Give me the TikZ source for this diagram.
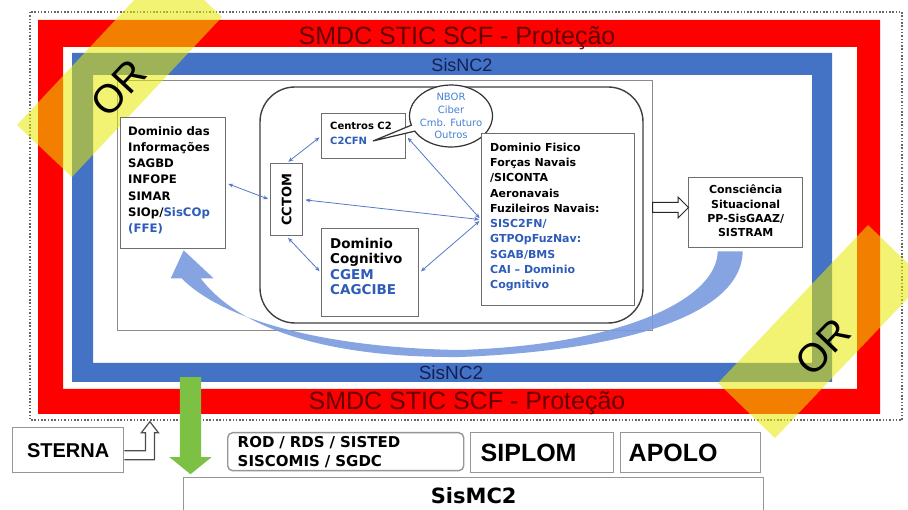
\documentclass[tikz,border=0pt]{standalone}
\usepackage{fontspec}
\setmainfont{DejaVu Sans}
\newfontfamily\arialfont{Liberation Sans}
\usepackage{graphicx}
\usepackage{xcolor}
\usepackage{tikz}
\usetikzlibrary{arrows.meta}
\usetikzlibrary{shapes.callouts}
\usetikzlibrary{shapes.arrows}

\definecolor{frred}{RGB}{255,0,0}
\definecolor{frblue}{RGB}{68,114,196}
\definecolor{txtblue}{RGB}{46,92,184}
\definecolor{cloudblue}{RGB}{70,130,210}
\definecolor{titlered}{RGB}{100,0,0}
\definecolor{sisnavy}{RGB}{20,32,85}
\definecolor{curveblue}{RGB}{120,155,222}
\definecolor{linkblue}{RGB}{85,120,200}
\definecolor{arrowgreen}{RGB}{124,193,68}
\definecolor{bandyellow}{RGB}{232,232,0}
\definecolor{boxgray}{RGB}{110,110,110}
\definecolor{lowgray}{RGB}{150,150,150}

\newcommand{\pxfont}[2]{\fontsize{#1}{#2}\selectfont\bfseries}
\newcommand{\inblue}[1]{\textcolor{txtblue}{#1}}

\tikzset{
  box/.style={draw=boxgray, line width=1.4pt, fill=white, inner sep=0pt, anchor=north west},
  lowbox/.style={box, draw=lowgray},
  txt/.style={anchor=north west, inner sep=0pt, align=left},
  link/.style={draw=linkblue, line width=0.8pt, >={Stealth[length=5pt,width=4pt]}, <->, shorten <=2pt, shorten >=2pt},
  band/.style={fill=bandyellow, fill opacity=0.55},
  ortxt/.style={inner sep=0pt, font=\arialfont\fontsize{40}{40}\selectfont},
  frametxt/.style={anchor=base, inner sep=0pt, font=\arialfont\fontsize{25}{25}\selectfont, text=titlered},
  sistxt/.style={anchor=base, inner sep=0pt, font=\arialfont\fontsize{18}{18}\selectfont, text=sisnavy},
  hollowarrow/.style={single arrow, draw=black!85, fill=white, line width=1pt, inner xsep=0pt, inner ysep=4.5pt,
    minimum width=20pt, minimum height=36pt, single arrow head extend=5.5pt, single arrow head indent=0pt, anchor=tail},
  greenarrow/.style={single arrow, fill=arrowgreen, inner xsep=0pt, inner ysep=10.5pt, minimum width=42pt,
    minimum height=97pt, single arrow head extend=10.5pt, single arrow tip angle=102, anchor=tail, rotate=-90},
}

\begin{document}
\begin{tikzpicture}[x=1pt,y=-1pt]
\fill[white] (0,0) rectangle (908,510);
\useasboundingbox (0,0) rectangle (908,510);
\clip (0,0) rectangle (908,510);

% frames
\draw[black!60, line width=1.5pt, dash pattern=on 1.5pt off 1.8pt] (30,12) rectangle (902,420);
\fill[frred, even odd rule] (38,20) rectangle (880,414) (63,47) rectangle (857,389);
\fill[frblue, even odd rule] (72,53) rectangle (832,382) (93,75) rectangle (812,363);
\node[frametxt] (smdctop) at (457,45) {SMDC STIC SCF - Proteção};
\node[frametxt] (smdcbot) at (467,410) {SMDC STIC SCF - Proteção};
\node[sistxt] (sistop) at (462,72) {SisNC2};
\node[sistxt, font=\arialfont\fontsize{19}{19}\selectfont] (sisbot) at (451,380) {SisNC2};

\node[draw=boxgray!80, line width=1.4pt, inner sep=0pt, anchor=north west, minimum width=535, minimum height=250] (inner) at (117,80) {};
\draw[black!75, line width=1.4pt, rounded corners=35pt] (260,87) rectangle (643,323);

% OR bands
\fill[band] (17,125) -- (72,177) -- (222,17) -- (167,-35) -- cycle;
\fill[band] (718,383) -- (775,438) -- (925,280) -- (868,225) -- cycle;
\node[ortxt, rotate=47] (ortl) at (119,88) {OR};
\node[ortxt, rotate=46] (orbr) at (823,347) {OR};

% domains
\node[box, minimum width=105, minimum height=131] (info) at (120,117) {};
\node[txt, font=\pxfont{11.7}{16.3}] (infotxt) at ([shift={(8,9)}]info.north west)
  {Dominio das\\Informações\\SAGBD\\INFOPE\\SIMAR\\SIOp/\inblue{SisCOp}\\\inblue{(FFE)}};

\node[box, minimum width=32, minimum height=72, font=\pxfont{13}{13}] (cctom) at (270,163) {\rotatebox{90}{CCTOM}};

\node[box, minimum width=84, minimum height=45] (ctr) at (321,113) {};
\node[txt, font=\pxfont{10}{15}] (ctrtxt) at ([shift={(9,8.5)}]ctr.north west) {Centros C2\\\inblue{C2CFN}};

\node[box, minimum width=97, minimum height=88] (cog) at (321,228) {};
\node[txt, font=\pxfont{13.5}{15.4}] (cogtxt) at ([shift={(9,10)}]cog.north west)
  {Dominio\\Cognitivo\\\inblue{CGEM}\\\inblue{CAGCIBE}};

\coordinate (c2tip) at (373,141);
\node[ellipse callout, draw=black!80, line width=1.2pt, fill=white, minimum width=83, minimum height=62, inner sep=0pt,
  callout absolute pointer={(c2tip)}, callout pointer arc=12] (cloud) at (451,116) {};
\node[align=center, inner sep=0pt, text=cloudblue, font=\fontsize{10}{12.8}\selectfont] (cloudtxt) at (cloud.center)
  {NBOR\\Ciber\\Cmb. Futuro\\Outros};

\node[box, minimum width=153, minimum height=172] (fis) at (481,133) {};
\node[txt, font=\pxfont{11}{15.3}] (fistxt) at ([shift={(9,9.6)}]fis.north west)
  {Dominio Fisico\\Forças Navais\\/SICONTA\\Aeronavais\\Fuzileiros Navais:\\\inblue{SISC2FN/}\\\inblue{GTPOpFuzNav:}\\\inblue{SGAB/BMS}\\\inblue{CAI – Dominio}\\\inblue{Cognitivo}};

\node[box, minimum width=114, minimum height=70] (con) at (688,177) {};
\node[anchor=north, inner sep=0pt, align=center, font=\pxfont{11}{14.3}] (contxt) at ([shift={(0,8)}]con.north)
  {Consciência\\Situacional\\PP-SisGAAZ/\\SISTRAM};

% links
\draw[link] (info.east) -- (cctom.west);
\draw[link] (cctom.north) -- (ctr.west);
\draw[link] (cctom.south) -- (cog.west);
\draw[link] (cctom.east) -- (fis.west);
\draw[link] (ctr.east) -- (fis.west);
\draw[link] (cog.east) -- (fis.west);

\node[hollowarrow] (tocon) at (652,207.5) {};

% feedback arrow
\fill[curveblue, fill opacity=0.9] ([shift={(-3,3)}]con.south) .. controls (742,310) and (640,350) .. (460,357)
  .. controls (330,358) and (240,330) .. ([shift={(27.5,29)}]info.south) -- ([shift={(40.5,29)}]info.south)
  -- ([shift={(10.5,1)}]info.south) -- ([shift={(-2.5,29)}]info.south) -- ([shift={(8.5,29)}]info.south)
  .. controls (225,322) and (330,348) .. (460,350) .. controls (620,345) and (717,300) .. ([shift={(-28,3)}]con.south) -- cycle;

% bottom row
\node[lowbox, minimum width=111, minimum height=45, font=\arialfont\bfseries\fontsize{20}{20}\selectfont] (sterna) at (12,427) {STERNA};
\node[lowbox, rounded corners=5pt, minimum width=236, minimum height=38, text width=216, inner xsep=10pt, align=left,
  font=\pxfont{15}{19}] (rod) at (227,432) {ROD / RDS / SISTED\\SISCOMIS / SGDC};
\node[lowbox, minimum width=143, minimum height=40, text width=123, inner xsep=10pt, align=left,
  font=\arialfont\bfseries\fontsize{25}{25}\selectfont] (siplom) at (470,432) {SIPLOM};
\node[lowbox, minimum width=140, minimum height=40, text width=124, inner xsep=8pt, align=left,
  font=\arialfont\bfseries\fontsize{25}{25}\selectfont] (apolo) at (620,432) {APOLO};
\node[lowbox, minimum width=580, minimum height=36, font=\pxfont{21}{21}] (sismc) at (183,477) {SisMC2};

\draw[black!70, line width=1.2pt, fill=white] (sterna.east) ++(0,0.5) -- ++(21,0) -- ++(0,-18) -- ++(-4,0)
  -- ++(8.5,-11) -- ++(8.5,11) -- ++(-4,0) -- ++(0,27) -- ++(-30,0);
\node[greenarrow] (tomc) at (190.5,377) {};
\end{tikzpicture}
\end{document}
